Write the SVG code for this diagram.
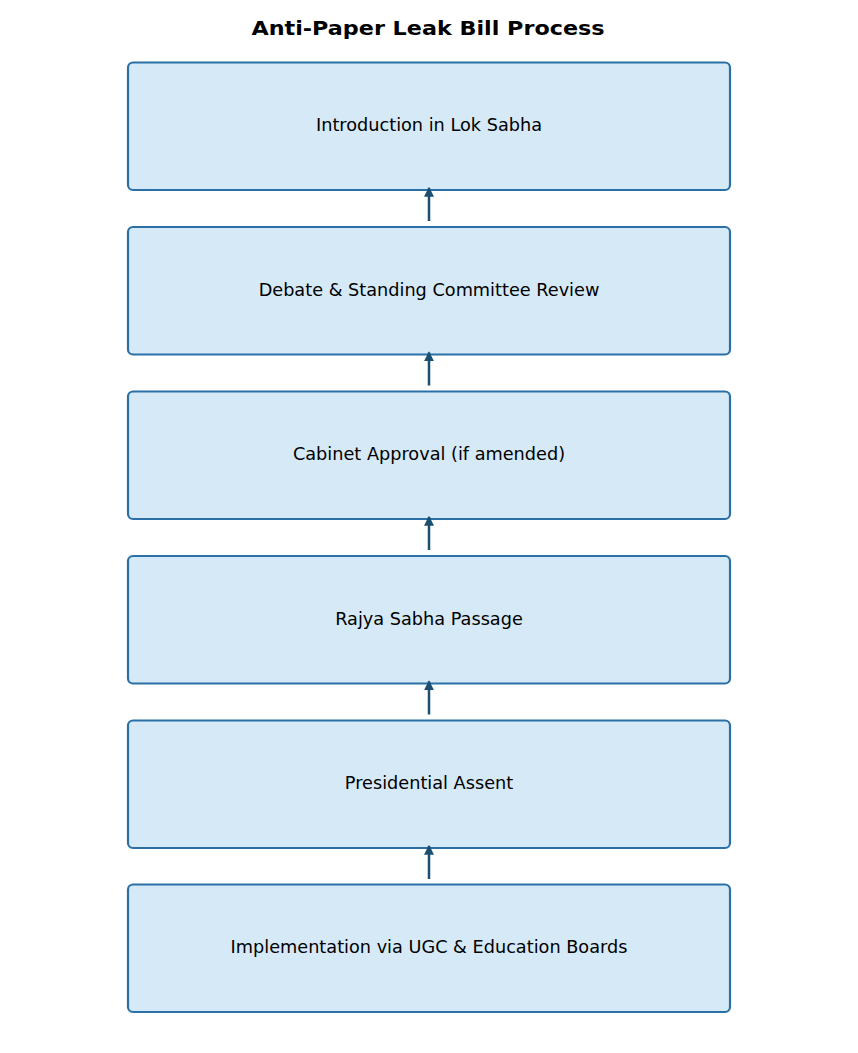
<svg xmlns="http://www.w3.org/2000/svg" width="858" height="1053" viewBox="0 0 858 1053">
<style>
.box{fill:#d6e9f7;stroke:#2a70a6;stroke-width:2.2}
.lbl{font-family:"DejaVu Sans",sans-serif;font-size:17.7px;fill:#000;text-anchor:middle}
.title{font-family:"DejaVu Sans",sans-serif;font-size:19px;font-weight:bold;fill:#000;text-anchor:middle}
.arr{stroke:#1b4f72;stroke-width:2.5;fill:none}
</style>
<defs>
<marker id="ah" markerWidth="10" markerHeight="10" refX="7" refY="4" orient="auto" markerUnits="userSpaceOnUse" viewBox="0 0 8 8">
<path d="M0,0 L8,4 L0,8 Z" fill="#1b4f72"/>
</marker>
</defs>
<rect width="858" height="1053" fill="#fff"/>
<text class="title" x="428" y="35" textLength="353" lengthAdjust="spacingAndGlyphs">Anti-Paper Leak Bill Process</text>
<g id="n1"><rect class="box" x="128" y="62.5" width="602" height="127.5" rx="5"/><text class="lbl" x="429" y="131">Introduction in Lok Sabha</text></g>
<g id="n2"><rect class="box" x="128" y="227" width="602" height="127.5" rx="5"/><text class="lbl" x="429" y="295.5">Debate &amp; Standing Committee Review</text></g>
<g id="n3"><rect class="box" x="128" y="391.5" width="602" height="127.5" rx="5"/><text class="lbl" x="429" y="460">Cabinet Approval (if amended)</text></g>
<g id="n4"><rect class="box" x="128" y="556" width="602" height="127.5" rx="5"/><text class="lbl" x="429" y="624.5">Rajya Sabha Passage</text></g>
<g id="n5"><rect class="box" x="128" y="720.5" width="602" height="127.5" rx="5"/><text class="lbl" x="429" y="789">Presidential Assent</text></g>
<g id="n6"><rect class="box" x="128" y="884.5" width="602" height="127.5" rx="5"/><text class="lbl" x="429" y="953">Implementation via UGC &amp; Education Boards</text></g>
<g id="connectors">
<line class="arr" x1="429" y1="221" x2="429" y2="188" marker-end="url(#ah)"/>
<line class="arr" x1="429" y1="385.5" x2="429" y2="352.5" marker-end="url(#ah)"/>
<line class="arr" x1="429" y1="550" x2="429" y2="517" marker-end="url(#ah)"/>
<line class="arr" x1="429" y1="714.5" x2="429" y2="681.5" marker-end="url(#ah)"/>
<line class="arr" x1="429" y1="879" x2="429" y2="846" marker-end="url(#ah)"/>
</g>
</svg>
